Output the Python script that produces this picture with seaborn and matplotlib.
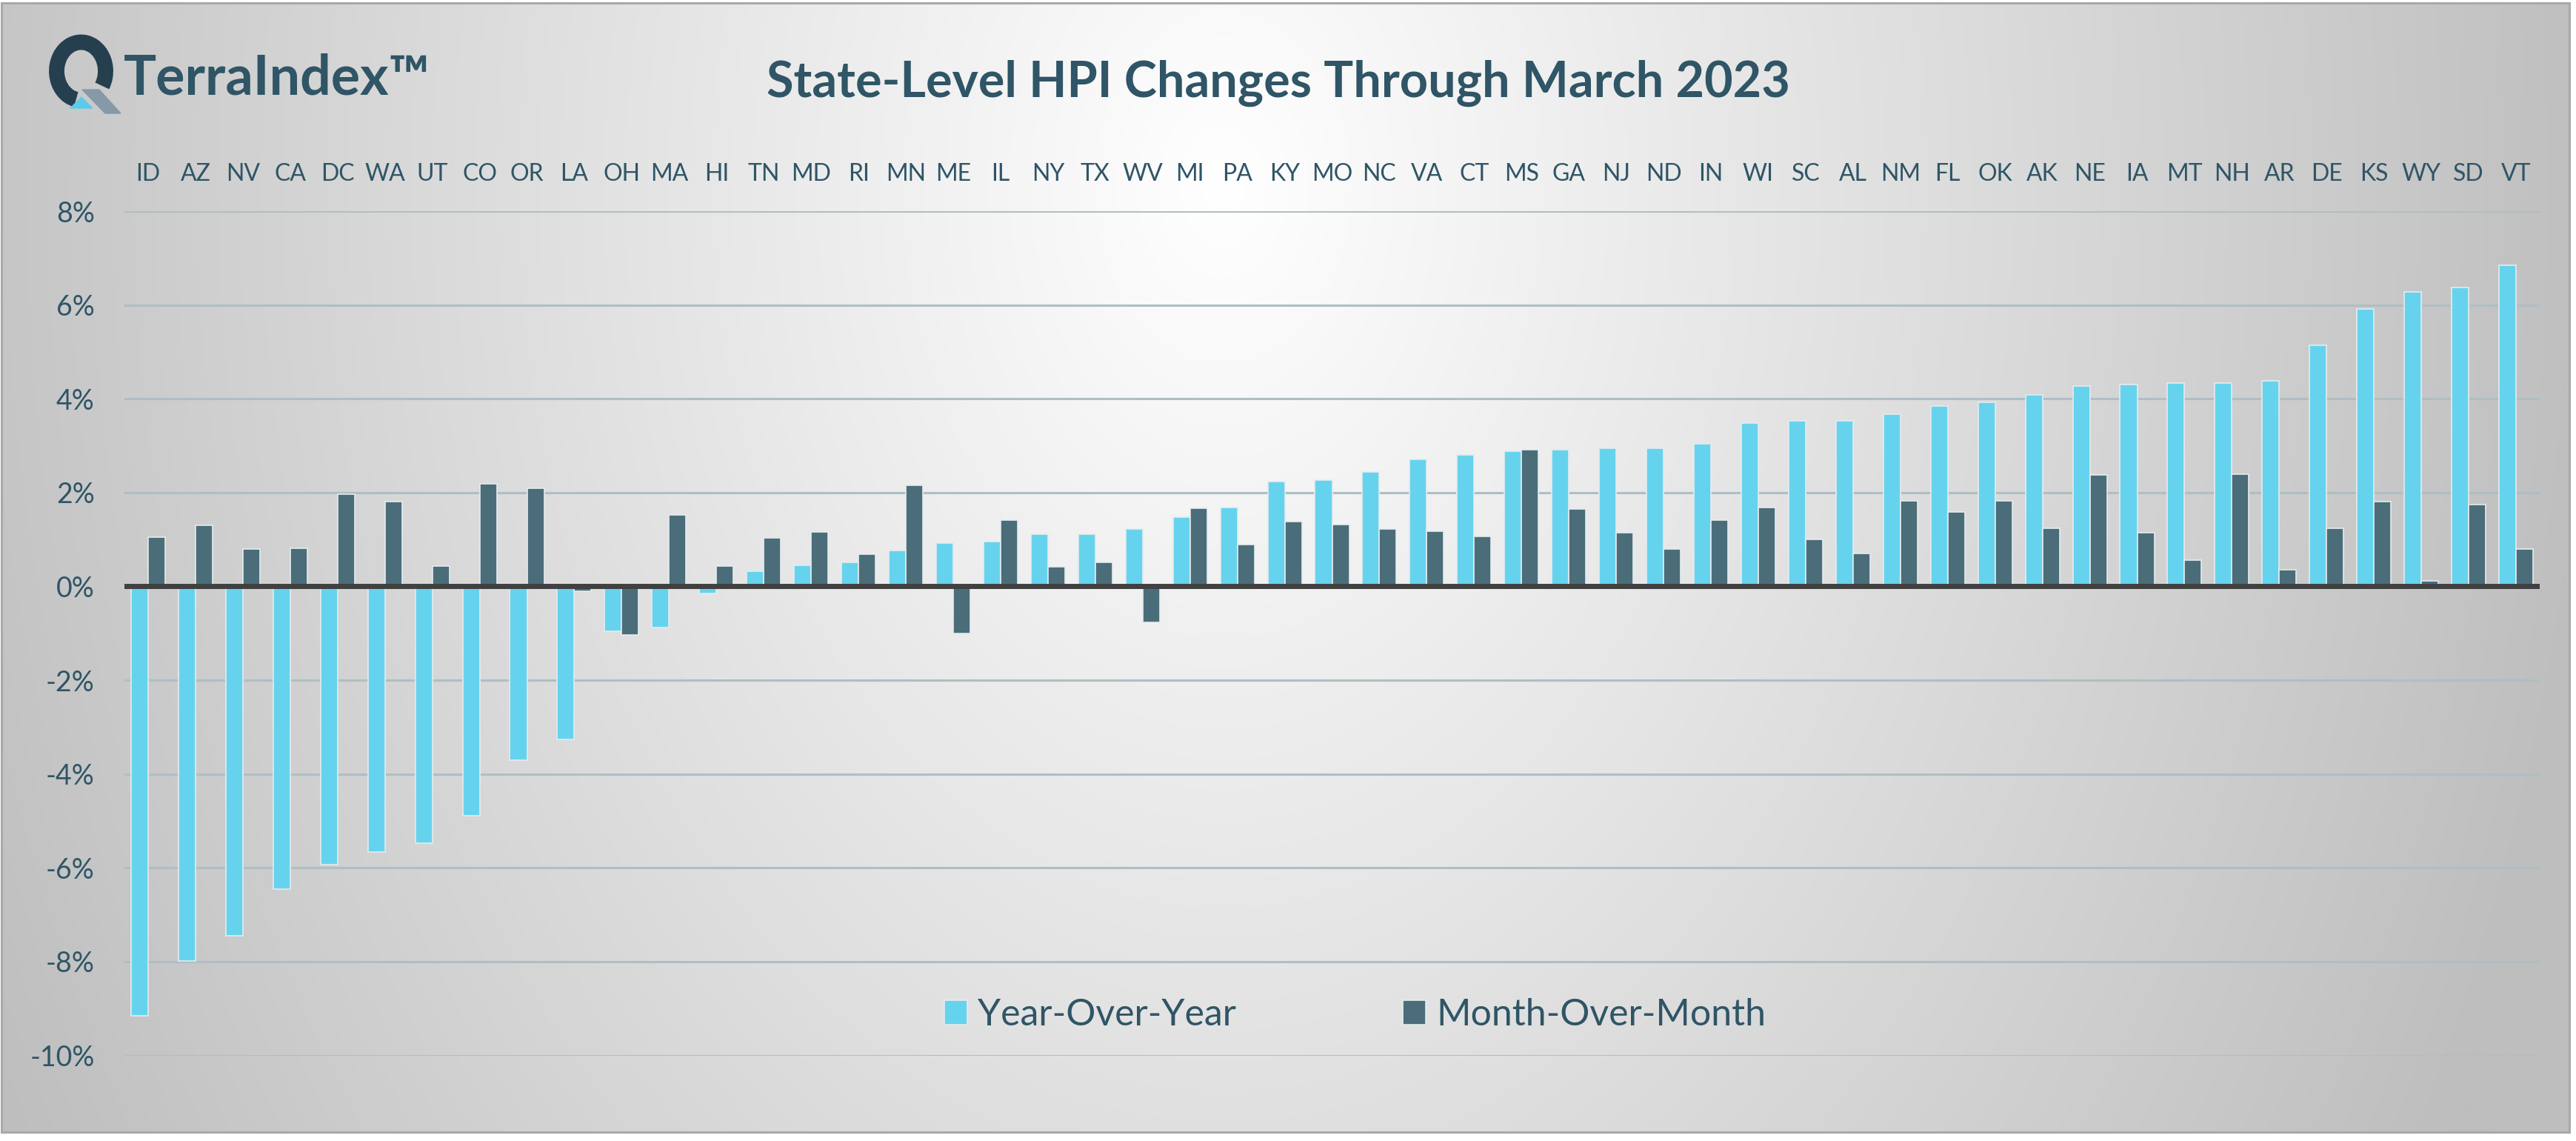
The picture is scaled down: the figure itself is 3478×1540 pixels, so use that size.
import numpy as np
import pandas as pd
import matplotlib
matplotlib.use("Agg")
import matplotlib.pyplot as plt
import seaborn as sns
from matplotlib.patches import Patch, Rectangle, Arc, Polygon

# ---------------- data ----------------
states = ["ID", "AZ", "NV", "CA", "DC", "WA", "UT", "CO", "OR", "LA", "OH", "MA", "HI",
          "TN", "MD", "RI", "MN", "ME", "IL", "NY", "TX", "WV", "MI", "PA", "KY", "MO",
          "NC", "VA", "CT", "MS", "GA", "NJ", "ND", "IN", "WI", "SC", "AL", "NM", "FL",
          "OK", "AK", "NE", "IA", "MT", "NH", "AR", "DE", "KS", "WY", "SD", "VT"]
yoy = [-9.15, -7.99, -7.45, -6.45, -5.93, -5.67, -5.47, -4.89, -3.71, -3.26, -0.95, -0.87, -0.15,
       0.33, 0.45, 0.51, 0.77, 0.92, 0.96, 1.12, 1.12, 1.22, 1.47, 1.68, 2.24, 2.26,
       2.44, 2.71, 2.80, 2.88, 2.92, 2.95, 2.95, 3.04, 3.49, 3.53, 3.53, 3.67, 3.85,
       3.93, 4.09, 4.27, 4.30, 4.33, 4.33, 4.39, 5.14, 5.91, 6.28, 6.37, 6.84]
mom = [1.05, 1.30, 0.79, 0.82, 1.96, 1.80, 0.43, 2.18, 2.09, -0.10, -1.04, 1.53, 0.43,
       1.03, 1.16, 0.68, 2.16, -1.01, 1.42, 0.41, 0.52, -0.77, 1.67, 0.89, 1.38, 1.32,
       1.22, 1.18, 1.07, 2.92, 1.65, 1.15, 0.79, 1.41, 1.68, 1.01, 0.70, 1.82, 1.58,
       1.82, 1.24, 2.37, 1.15, 0.56, 2.39, 0.35, 1.24, 1.80, 0.12, 1.75, 0.80]
series_names = ["Year-Over-Year", "Month-Over-Month"]
y_ticks = [-10, -8, -6, -4, -2, 0, 2, 4, 6, 8]
y_tick_labels = [f"{v}%" for v in y_ticks]
title = "State-Level HPI Changes Through March 2023"
brand = "TerraIndex\u2122"

df = pd.DataFrame({
    "State": states * 2,
    "Value": yoy + mom,
    "Series": [series_names[0]] * len(states) + [series_names[1]] * len(states),
})

# ---------------- style ----------------
W, H = 3478, 1540
c_yoy = "#66D3EE"
c_mom = "#4A6D79"
c_text = "#2F5566"
c_edge = "#E4ECEE"

sns.set_style("white")
plt.rcParams["font.family"] = ["Lato", "DejaVu Sans"]

fig = plt.figure(figsize=(W / 100, H / 100), dpi=100, facecolor="white")

# background panel (pixel coordinates, y downwards)
bg = fig.add_axes([0, 0, 1, 1], zorder=0)
x0, y0, x1, y1 = 2, 4, 3469, 1528
xx, yy = np.meshgrid(np.arange(x0, x1, 4), np.arange(y0, y1, 4))
d = np.sqrt((xx - 1650) ** 2 + (0.71 * (yy - 250)) ** 2) / 1876
v = (255 - 65 * np.clip(d, 0, 1)) / 255
bg.imshow(np.dstack([v, v, v]), extent=(x0, x1, y1, y0), aspect="auto",
          interpolation="bilinear", zorder=0)
bg.add_patch(Rectangle((x0, y0), x1 - x0, y1 - y0, fill=False,
                       edgecolor="#A9A9A9", lw=2.2, zorder=1))
bg.set_xlim(0, W)
bg.set_ylim(H, 0)
bg.axis("off")

# logo
bg.add_patch(Arc((109.5, 96), 66, 78, theta1=100, theta2=395,
                 color="#263F4F", lw=15, zorder=2))
bg.add_patch(Polygon([(95, 146), (125, 146), (110, 131)], closed=True,
                     color="#5CCBEA", zorder=3))
bg.add_patch(Polygon([(111, 121), (134, 121), (163, 153), (142, 153)], closed=True,
                     color="#8599A8", zorder=3))
bg.text(167, 127, brand, fontsize=53, fontweight="bold", color=c_text,
        ha="left", va="baseline", zorder=3)

# title
bg.text(1726, 131, title, fontsize=48, fontweight="bold", color=c_text,
        ha="center", va="baseline", zorder=3)

# ---------------- main chart ----------------
ax = fig.add_axes([168 / W, 1 - 1424.5 / H, (3429 - 168) / W, (1424.5 - 285) / H], zorder=2)
ax.patch.set_alpha(0)

sns.barplot(data=df, x="State", y="Value", hue="Series", hue_order=series_names,
            order=states, palette=[c_yoy, c_mom], width=0.72, gap=0, saturation=1,
            edgecolor=c_edge, linewidth=1.2, legend=False, errorbar=None, ax=ax, zorder=2)

ax.set_xlim(-0.5, len(states) - 0.5)
ax.set_ylim(-10, 8)
ax.set_yticks(y_ticks)
ax.set_yticklabels(y_tick_labels)
ax.yaxis.grid(True, color="#AEBFC4", lw=2.2)
ax.xaxis.grid(False)
ax.set_axisbelow(True)
ax.axhline(0, color="#404040", lw=5, zorder=3)
ax.xaxis.tick_top()
ax.tick_params(axis="x", length=0, pad=25, labelsize=23, labelcolor=c_text)
ax.tick_params(axis="y", length=0, pad=29, labelsize=27, labelcolor=c_text)
ax.set_xlabel("")
ax.set_ylabel("")
for s in ax.spines.values():
    s.set_visible(False)

handles = [Patch(facecolor=c_yoy, edgecolor=c_edge, lw=1.2),
           Patch(facecolor=c_mom, edgecolor=c_edge, lw=1.2)]
fig.legend(handles, series_names, loc="center", bbox_to_anchor=(1830 / W, 1 - 1370 / H),
           ncol=2, frameon=False, fontsize=36, handlelength=0.62, handleheight=0.62,
           handletextpad=0.28, columnspacing=4.5, labelcolor=c_text)

fig.savefig("out.png", dpi=100, facecolor="white")
